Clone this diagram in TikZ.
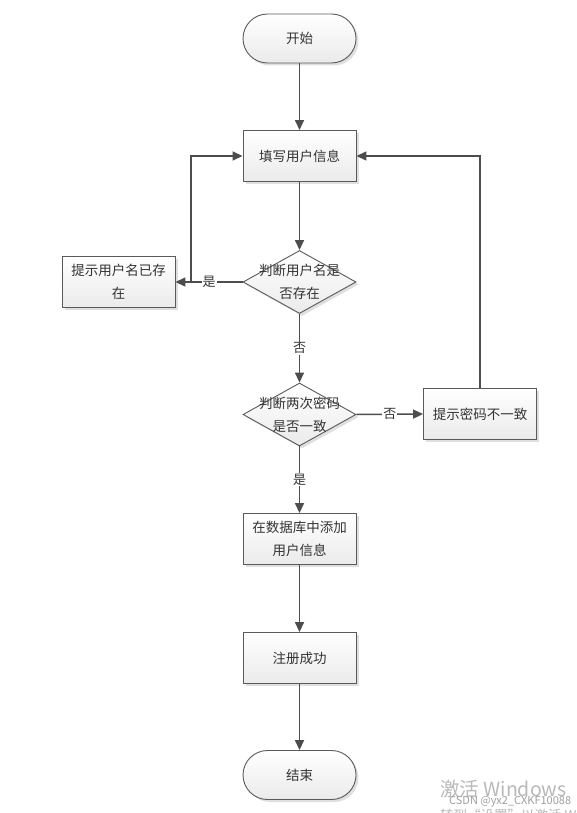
\documentclass[tikz,border=0pt]{standalone}
\usepackage{fontspec}
\setmainfont{Noto Sans CJK SC}
\usetikzlibrary{shapes.geometric,arrows.meta,shadows}
\definecolor{linec}{HTML}{4D4D4D}
\definecolor{borderc}{HTML}{5A5A5A}
\definecolor{textc}{HTML}{333333}
\begin{document}
\begin{tikzpicture}[x=1pt,y=-1pt,
  base/.style={draw=borderc, line width=0.9pt, top color=white, bottom color=gray!16,
    drop shadow={shadow xshift=2.5pt, shadow yshift=-2.5pt, opacity=0.35, fill=gray!70},
    text=textc, font=\fontsize{13.5pt}{23pt}\selectfont, align=center, inner sep=0pt},
  term/.style={base, minimum width=113pt, minimum height=49pt, rounded corners=24.5pt},
  proc/.style={base, minimum width=113pt, minimum height=51pt},
  decision/.style={base, diamond, minimum width=113pt, minimum height=63pt},
  dtext/.style={text=textc, font=\fontsize{13.5pt}{23pt}\selectfont, align=center, inner sep=0pt},
  arr/.style={draw=linec, line width=1.5pt, -{Triangle[length=10pt,width=9pt]}},
  lbl/.style={fill=white, text=textc, font=\fontsize{13pt}{15pt}\selectfont, inner sep=1pt},
  wm/.style={text=gray!55, inner sep=0pt, anchor=west}
]
\useasboundingbox (0,0) rectangle (576,813);
\fill[white] (0,0) rectangle (576,813);

\node[term] (start) at (299.5,38.5) {开始};
\node[proc] (fill) at (299.5,156) {填写用户信息};
\node[decision] (d1) at (299.5,282) {};
\node[dtext] (d1t) at (299.5,282) {判断用户名是\\否存在};
\node[proc] (box1) at (118.5,282) {提示用户名已存\\在};
\node[decision] (d2) at (299.5,414.5) {};
\node[dtext] (d2t) at (299.5,414.5) {判断两次密码\\是否一致};
\node[proc] (box2) at (480,414) {提示密码不一致};
\node[proc] (db) at (299.5,539) {在数据库中添加\\用户信息};
\node[proc] (ok) at (299.5,658) {注册成功};
\node[term] (end) at (299.5,775) {结束};

\coordinate (j) at (191,282);

\draw[arr] (start) -- (fill);
\draw[arr] (fill) -- (d1);
\draw[arr] (d1.west) -- node[lbl] {是} (box1.east);
\draw[arr] (j) |- (fill.west);
\draw[arr] (d1.south) -- node[lbl] {否} (d2.north);
\draw[arr] (d2.east) -- node[lbl] {否} (box2.west);
\draw[arr] (box2.north) |- (fill.east);
\draw[arr] (d2.south) -- node[lbl] {是} (db.north);
\draw[arr] (db) -- (ok);
\draw[arr] (ok) -- (end);

\node[wm, font=\fontsize{19.5pt}{19.5pt}\selectfont] (wm1) at (440,789) {激活 Windows};
\node[wm, text=gray!75, font=\fontsize{11pt}{11pt}\selectfont] (wm2) at (449,802) {CSDN @yx2\_CXKF10088};
\node[wm, font=\fontsize{13.5pt}{13.5pt}\selectfont] (wm3) at (440,815) {转到“设置”以激活 Windows。};
\end{tikzpicture}
\end{document}
